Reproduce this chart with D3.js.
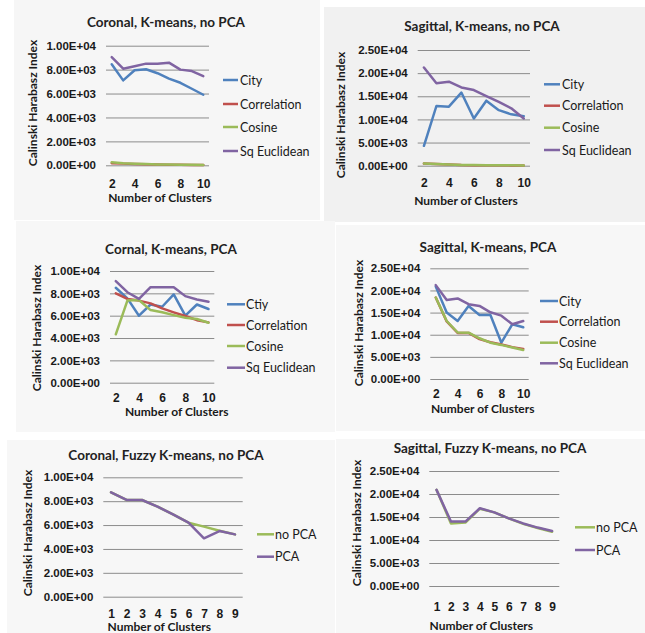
<!DOCTYPE html>
<html><head><meta charset="utf-8">
<script src="https://cdn.jsdelivr.net/npm/d3@7"></script>
<style>
body{margin:0;background:#fff;}
svg{display:block;font-family:Lato,"Open Sans",sans-serif;}
</style></head><body>
<svg id="c" width="645" height="633"></svg>
<script>
// ---------- data ----------
const kClusters = [2,3,4,5,6,7,8,9,10];
const kTickLabels = [2,4,6,8,10];
const fuzzyClusters = [1,2,3,4,5,6,7,8,9];
const yTicksCoronal = [0,2000,4000,6000,8000,10000];
const yTicksSagittal = [0,5000,10000,15000,20000,25000];

// Coronal, K-means, no PCA
const corNoPcaCity = [8450,7100,7950,8030,7700,7250,6900,6400,5900];
const corNoPcaCorrelation = [180,140,110,90,60,50,40,30,20];
const corNoPcaCosine = [250,170,130,100,70,60,50,40,30];
const corNoPcaSqEuclid = [9050,8080,8280,8500,8500,8580,8000,7880,7450];

// Sagittal, K-means, no PCA
const sagNoPcaCity = [4300,12900,12750,15800,10200,14050,12000,11100,10700];
const sagNoPcaCorrelation = [450,350,250,150,120,100,80,70,60];
const sagNoPcaCosine = [500,380,270,170,130,110,90,80,70];
const sagNoPcaSqEuclid = [21200,17800,18150,16900,16350,15050,13800,12400,10200];

// Cornal, K-means, PCA
const corPcaCity = [8500,7550,6000,7000,6800,7900,6000,7000,6600];
const corPcaCorrelation = [8000,7500,7350,7100,6650,6300,5970,5600,5400];
const corPcaCosine = [4330,7350,7400,6500,6300,6050,5820,5700,5370];
const corPcaSqEuclid = [9100,8100,7500,8550,8550,8550,7750,7450,7250];

// Sagittal, K-means, PCA
const sagPcaCity = [20860,15000,13100,16500,14460,14460,8200,12350,11670];
const sagPcaCorrelation = [18400,13000,10400,10400,9000,8300,7800,7200,6800];
const sagPcaCosine = [18400,13100,10500,10450,9200,8200,7700,7100,6550];
const sagPcaSqEuclid = [21200,17850,18200,16900,16500,15060,14300,12350,13100];

// Coronal, Fuzzy K-means
const corFuzzyNoPca = [8740,8100,8100,7540,6900,6200,5870,5530,5220];
const corFuzzyPca = [8740,8100,8100,7540,6900,6200,4890,5500,5220];

// Sagittal, Fuzzy K-means
const sagFuzzyNoPca = [20900,13600,13800,16800,16000,14700,13500,12600,11800];
const sagFuzzyPca = [20900,14000,14000,16900,16000,14700,13600,12700,11960];

const kSeriesNames = ["City","Correlation","Cosine","Sq Euclidean"];
const kSeriesNamesPca = ["Ctiy","Correlation","Cosine","Sq Euclidean"];
const fuzzySeriesNames = ["no PCA","PCA"];

const kColors = ["#4F81BD","#C0504D","#9BBB59","#8064A2"];
const fuzzyColors = ["#9BBB59","#8064A2"];

// ---------- drawing ----------
const svg = d3.select("#c");
const fmt = v => {
  const s = v.toExponential(2).toUpperCase();
  const m = s.match(/^(.*)E([+-])(\d+)$/);
  return m[1] + "E" + m[2] + m[3].padStart(2,"0");
};

const panels = [
  {bg:[14,0,306,220], fill:"#f6f6f6", title:"Coronal, K-means, no PCA", tx:166, ty:27,
   px:[106,209], py:[45.7,165.3], yTicks:yTicksCoronal, cats:kClusters, xLabels:kTickLabels,
   series:[corNoPcaCity,corNoPcaCorrelation,corNoPcaCosine,corNoPcaSqEuclid], names:kSeriesNames, colors:kColors,
   xlabY:188, xtitle:[160,202], ytitle:[33,103], leg:{x0:223,x1:238,tx:240,ys:[80,104,127,151]}},
  {bg:[324,7,321,215], fill:"#f1f1f1", title:"Sagittal, K-means, no PCA", tx:482, ty:31,
   px:[417.7,530], py:[50,165.7], yTicks:yTicksSagittal, cats:kClusters, xLabels:kTickLabels,
   series:[sagNoPcaCity,sagNoPcaCorrelation,sagNoPcaCosine,sagNoPcaSqEuclid], names:kSeriesNames, colors:kColors,
   xlabY:187, xtitle:[466,205], ytitle:[341,115], leg:{x0:544,x1:560,tx:562,ys:[84.3,105.7,127.7,150]}},
  {bg:[16,221,319,211], fill:"#f7f7f7", title:"Cornal, K-means, PCA", tx:171, ty:254,
   px:[110,214.3], py:[271,382.7], yTicks:yTicksCoronal, cats:kClusters, xLabels:kTickLabels,
   series:[corPcaCity,corPcaCorrelation,corPcaCosine,corPcaSqEuclid], names:kSeriesNamesPca, colors:kColors,
   xlabY:402, xtitle:[176.7,416], ytitle:[37,328], leg:{x0:227,x1:245,tx:246,ys:[304.3,325,346,367.7]}},
  {bg:[336,225,309,206], fill:"#f7f7f7", title:"Sagittal, K-means,  PCA", tx:488, ty:252,
   px:[430.3,528.7], py:[268.3,379], yTicks:yTicksSagittal, cats:kClusters, xLabels:kTickLabels,
   series:[sagPcaCity,sagPcaCorrelation,sagPcaCosine,sagPcaSqEuclid], names:kSeriesNames, colors:kColors,
   xlabY:398, xtitle:[482.7,412.5], ytitle:[358.7,323], leg:{x0:540,x1:558,tx:559,ys:[301,321.7,342.7,363.3]}},
  {bg:[7,440,328,193], fill:"#f7f7f7", title:"Coronal, Fuzzy K-means, no PCA", tx:166, ty:460,
   px:[103.3,242.7], py:[477.3,596.7], yTicks:yTicksCoronal, cats:fuzzyClusters, xLabels:fuzzyClusters,
   series:[corFuzzyNoPca,corFuzzyPca], names:fuzzySeriesNames, colors:fuzzyColors,
   xlabY:618, xtitle:[159.3,631], ytitle:[28.3,533], leg:{x0:257,x1:274,tx:275,ys:[534.3,556.7]}},
  {bg:[336,439,309,194], fill:"#f7f7f7", title:"Sagittal, Fuzzy K-means, no PCA", tx:490, ty:453,
   px:[429.3,559.3], py:[471,586], yTicks:yTicksSagittal, cats:fuzzyClusters, xLabels:fuzzyClusters,
   series:[sagFuzzyNoPca,sagFuzzyPca], names:fuzzySeriesNames, colors:fuzzyColors,
   xlabY:611, xtitle:[481.3,630], ytitle:[357,523], leg:{x0:575,x1:595,tx:596,ys:[527.3,550]}}
];

panels.forEach(p => {
  const g = svg.append("g");
  g.append("rect").attr("x",p.bg[0]).attr("y",p.bg[1]).attr("width",p.bg[2]).attr("height",p.bg[3]).attr("fill",p.fill);

  const x = d3.scalePoint().domain(p.cats).range(p.px).padding(0.5);
  const y = d3.scaleLinear().domain([p.yTicks[0], p.yTicks[p.yTicks.length-1]]).range([p.py[1], p.py[0]]);

  // gridlines + y tick labels
  const yAxis = d3.axisLeft(y).tickValues(p.yTicks).tickFormat(fmt).tickSize(-(p.px[1]-p.px[0])).tickPadding(10);
  const ya = g.append("g").attr("transform",`translate(${p.px[0]},0)`).call(yAxis);
  ya.select(".domain").remove();
  ya.selectAll("line").attr("stroke","#8c8c8c").attr("stroke-width",1);
  ya.selectAll("text").attr("font-size",11.5).attr("font-weight","bold").attr("fill","#1a1a1a");

  // x tick labels
  const xAxis = d3.axisBottom(x).tickValues(p.xLabels).tickSize(0).tickPadding(0);
  const xa = g.append("g").attr("transform",`translate(0,${p.xlabY-9})`).call(xAxis);
  xa.select(".domain").remove();
  xa.selectAll("text").attr("font-size",12).attr("font-weight","bold").attr("fill","#1a1a1a");

  // lines
  const line = d3.line().x((d,i)=>x(p.cats[i])).y(d=>y(d));
  p.series.forEach((s,i) => {
    g.append("path").datum(s).attr("d",line).attr("fill","none")
     .attr("stroke",p.colors[i]).attr("stroke-width",2.5).attr("stroke-linejoin","round").attr("stroke-linecap","round");
  });

  // title
  g.append("text").attr("x",p.tx).attr("y",p.ty).attr("text-anchor","middle")
   .attr("font-size",13.5).attr("font-weight","bold").attr("fill","#222").text(p.title);
  // axis titles
  g.append("text").attr("x",p.xtitle[0]).attr("y",p.xtitle[1]).attr("text-anchor","middle")
   .attr("font-size",12).attr("font-weight","bold").attr("fill","#1a1a1a").text("Number of Clusters");
  g.append("text").attr("transform",`translate(${p.ytitle[0]+4},${p.ytitle[1]}) rotate(-90)`).attr("text-anchor","middle")
   .attr("font-size",12).attr("font-weight","bold").attr("fill","#1a1a1a").text("Calinski Harabasz Index");

  // legend
  p.names.forEach((n,i) => {
    const ly = p.leg.ys[i];
    g.append("line").attr("x1",p.leg.x0).attr("x2",p.leg.x1).attr("y1",ly).attr("y2",ly)
     .attr("stroke",p.colors[i]).attr("stroke-width",2.5);
    g.append("text").attr("x",p.leg.tx).attr("y",ly+4.5).attr("font-size",12.5).attr("fill","#1a1a1a").text(n);
  });
});
</script>
</body></html>
